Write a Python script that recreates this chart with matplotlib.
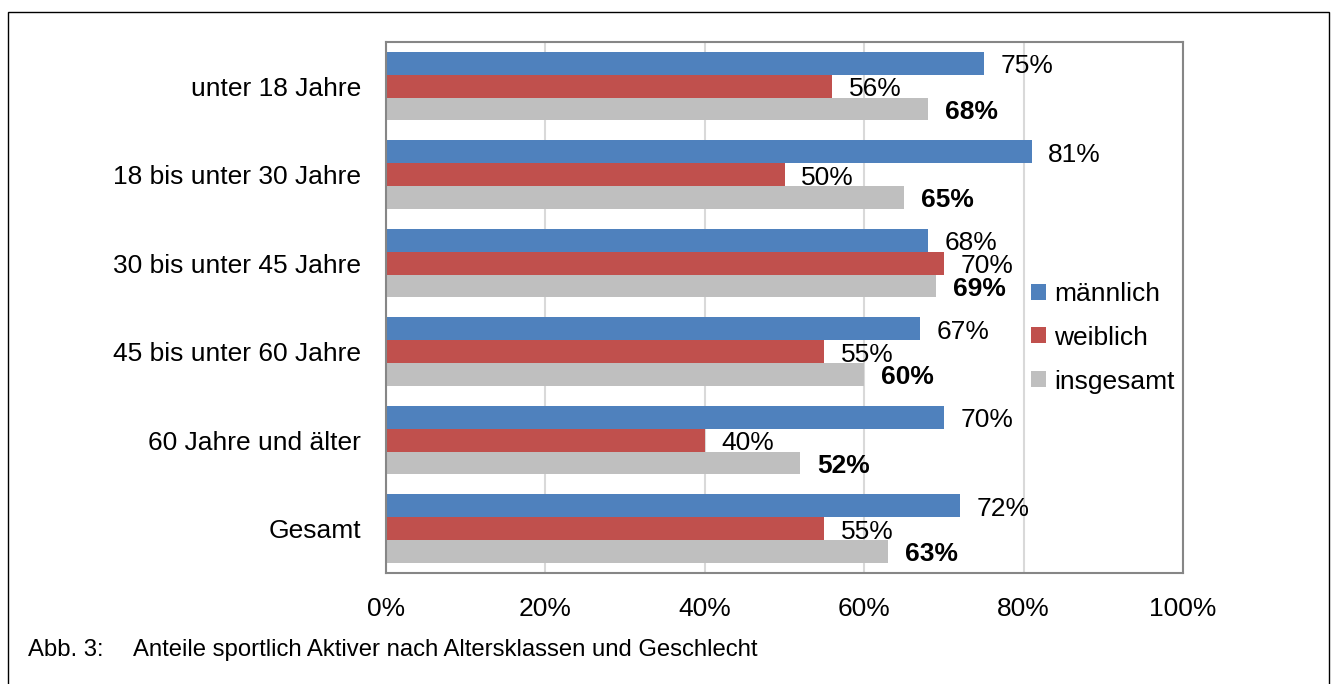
import matplotlib
matplotlib.use('Agg')
import matplotlib.pyplot as plt
from matplotlib.patches import Rectangle
import numpy as np

# data
categories = ['unter 18 Jahre', '18 bis unter 30 Jahre', '30 bis unter 45 Jahre',
              '45 bis unter 60 Jahre', '60 Jahre und älter', 'Gesamt']
maennlich = [75, 81, 68, 67, 70, 72]
weiblich = [56, 50, 70, 55, 40, 55]
insgesamt = [68, 65, 69, 60, 52, 63]
series_names = ['männlich', 'weiblich', 'insgesamt']
xticks = [0, 20, 40, 60, 80, 100]
caption = 'Abb. 3:'
caption_text = 'Anteile sportlich Aktiver nach Altersklassen und Geschlecht'

colors = ['#4F81BD', '#C0504D', '#BFBFBF']
plt.rcParams['font.family'] = ['Liberation Sans', 'DejaVu Sans']
fs = 19

fig = plt.figure(figsize=(13.34, 6.84), dpi=100)
ax = fig.add_axes([0.2894, 0.1623, 0.8868 - 0.2894, 0.9386 - 0.1623])

y = np.arange(len(categories))
h = 0.258
for k, (vals, col, name) in enumerate(zip([maennlich, weiblich, insgesamt], colors, series_names)):
    pos = y + (k - 1) * h
    ax.barh(pos, vals, height=h, color=col, label=name, zorder=2)
    for p, v in zip(pos, vals):
        ax.annotate(f'{v}%', (v, p), xytext=(12, -2), textcoords='offset points',
                    ha='left', va='center', fontsize=fs,
                    fontweight='bold' if k == 2 else 'normal', zorder=3)

ax.set_xlim(0, 100)
ax.set_ylim(len(categories) - 0.5, -0.5)
ax.set_xticks(xticks)
ax.set_xticklabels([f'{t}%' for t in xticks], fontsize=fs)
ax.set_yticks(y)
ax.set_yticklabels(categories, fontsize=fs)
ax.tick_params(axis='both', length=0)
ax.tick_params(axis='y', pad=18)
ax.tick_params(axis='x', pad=17)
ax.grid(axis='x', color='#D9D9D9', linewidth=1.5, zorder=0)
for s in ax.spines.values():
    s.set_color('#868686')
    s.set_linewidth(1.5)

leg = ax.legend(loc='center left', bbox_to_anchor=(0.78, 0.443), frameon=False,
                fontsize=fs, handlelength=0.55, handleheight=0.55,
                handletextpad=0.3, labelspacing=0.75)

# caption and outer frame
fig.text(28 / 1334, 1 - 650 / 684, caption, fontsize=17.2, va='center', ha='left')
fig.text(133 / 1334, 1 - 650 / 684, caption_text, fontsize=17.2, va='center', ha='left')
fig.patches.append(Rectangle((8 / 1334, -0.05), (1329 - 8) / 1334, 1.05 - 12 / 684,
                             transform=fig.transFigure, fill=False,
                             edgecolor='black', linewidth=1.0))

fig.savefig('out.png', dpi=100)
